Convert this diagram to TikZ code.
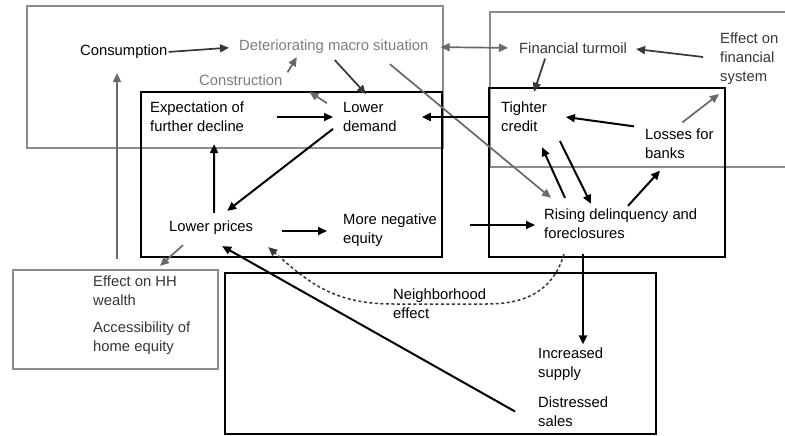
\documentclass[tikz,border=0pt]{standalone}
\usepackage{fontspec}
\setmainfont{Liberation Sans}
\usetikzlibrary{arrows.meta}
\definecolor{boxgray}{RGB}{140,140,140}
\definecolor{lightgraytext}{RGB}{125,125,125}
\definecolor{darktext}{RGB}{55,55,55}
\definecolor{arrowgray}{RGB}{105,105,105}
\tikzset{
  lbl/.style={anchor=west,inner sep=0pt,align=left,font=\fontsize{14.8}{19}\selectfont},
  blackbox/.style={draw=black,line width=2pt},
  graybox/.style={draw=boxgray,line width=2pt},
  blk/.style={draw=black,line width=2pt,-{Triangle[length=9pt,width=8pt]}},
  gry/.style={draw=arrowgray,line width=1.7pt,-{Triangle[length=9pt,width=8pt]}},
  nbdash/.style={draw=darktext,line width=1.5pt,dash pattern=on 3pt off 2.5pt,-{Triangle[length=9pt,width=8pt]}}
}
\begin{document}
\begin{tikzpicture}[x=1pt,y=-1pt]
\useasboundingbox (0,0) rectangle (785,436);
\fill[white] (0,0) rectangle (785,436);
% frames
\draw[graybox] (27,6) rectangle (443,148);
\draw[graybox] (787,12) -- (490,12) -- (490,167) -- (787,167);
\draw[graybox] (13,270) rectangle (218,369);
\draw[blackbox] (141,92) rectangle (442,257);
\draw[blackbox] (489,88) rectangle (725,257);
\draw[blackbox] (225,273) -- (225,434) -- (656,434) -- (656,273) -- cycle;
% labels
\node[lbl] (cons) at (80,52) {Consumption};
\node[lbl,text=lightgraytext] (det) at (239,47) {Deteriorating macro situation};
\node[lbl,text=lightgraytext] (constr) at (199,80) {Construction};
\node[lbl,text=darktext] (fin) at (519,48) {Financial turmoil};
\node[lbl,text=darktext] (efs) at (720,59) {Effect on\\financial\\system};
\node[lbl] (exp) at (150,117) {Expectation of\\further decline};
\node[lbl] (ld) at (343,117) {Lower\\demand};
\node[lbl] (tc) at (501,117) {Tighter\\credit};
\node[lbl] (lb) at (645,143.5) {Losses for\\banks};
\node[lbl] (lp) at (169,228) {Lower prices};
\node[lbl] (mne) at (343,230.5) {More negative\\equity};
\node[lbl] (rd) at (544,224) {Rising delinquency and\\foreclosures};
\node[lbl,text=darktext] (hh) at (93,291) {Effect on HH\\wealth};
\node[lbl,text=darktext] (acc) at (93,338) {Accessibility of\\home equity};
\node[lbl] (nb) at (393,304) {Neighborhood\\effect};
\node[lbl] (is) at (538,364) {Increased\\supply};
\node[lbl] (ds) at (538,411.5) {Distressed\\sales};
% gray connectors
\draw[gry,draw=darktext,shorten <=1pt,shorten >=10pt] (cons.east) -- (det.west);
\draw[gry] ([shift={(5,-2)}]constr.north east) -- ([shift={(-37,3)}]det.south);
\draw[gry,draw=darktext] ([shift={(1,6)}]det.south) -- ([shift={(23,-8)}]ld.north west);
\draw[gry] ([shift={(-16,1)}]ld.north west) -- ([shift={(27,12)}]constr.east);
\draw[gry] ([shift={(56,10)}]det.south) -- ([shift={(7,-11)}]rd.north west);
\draw[gry,{Triangle[length=9pt,width=8pt]}-{Triangle[length=9pt,width=8pt]},shorten <=12pt,shorten >=11pt] (det.east) -- (fin.west);
\draw[gry,draw=darktext,shorten <=17pt,shorten >=9pt] (efs.west) -- (fin.east);
\draw[gry,draw=darktext] ([shift={(-28,5)}]fin.south) -- ([shift={(33,-10)}]tc.north west);
\draw[gry] ([shift={(3,-6)}]lb.north) -- ([shift={(-1,9)}]efs.south west);
\draw[gry] ([shift={(24,-17)}]hh.north west) -- ([shift={(37,14)}]cons.south west);
\draw[gry] ([shift={(14,10)}]lp.south west) -- ([shift={(67,-10)}]hh.north west);
% black connectors
\draw[blk,shorten <=12pt,shorten >=25pt] (tc.west) -- (ld.east);
\draw[blk] ([shift={(-11,-2)}]lb.north west) -- ([xshift=19pt]tc.east);
\draw[blk,shorten <=33pt,shorten >=10pt] (exp.east) -- (ld.west);
\draw[blk] ([shift={(-10,-3)}]ld.south west) -- ([shift={(16,-10)}]lp.north);
\draw[blk] ([shift={(3,-8)}]lp.north) -- ([shift={(17,12)}]exp.south);
\draw[blk] ([shift={(29,3)}]lp.east) -- ([shift={(-16,0.5)}]mne.west);
\draw[blk] ([shift={(33,-5.5)}]mne.east) -- ([shift={(-9,1)}]rd.west);
\draw[blk] ([shift={(21,-11)}]rd.north west) -- ([shift={(18,15)}]tc.south);
\draw[blk] ([shift={(36,9)}]tc.south) -- ([shift={(47,-5)}]rd.north west);
\draw[blk] ([shift={(84,-3)}]rd.north west) -- ([shift={(15,12)}]lb.south west);
\draw[blk] ([shift={(39,15)}]rd.south west) -- ([shift={(45,-3)}]is.north west);
\draw[blk] ([shift={(-23,0)}]ds.west) -- ([shift={(11,11)}]lp.south);
% neighborhood effect
\draw[nbdash] ([shift={(20,15)}]rd.south west) .. controls +(-12,40) and +(35,0) .. (nb.east)
  -- (nb.west) .. controls +(-60,0) and +(40,35) .. ([shift={(15,12)}]lp.south east);
\end{tikzpicture}
\end{document}
